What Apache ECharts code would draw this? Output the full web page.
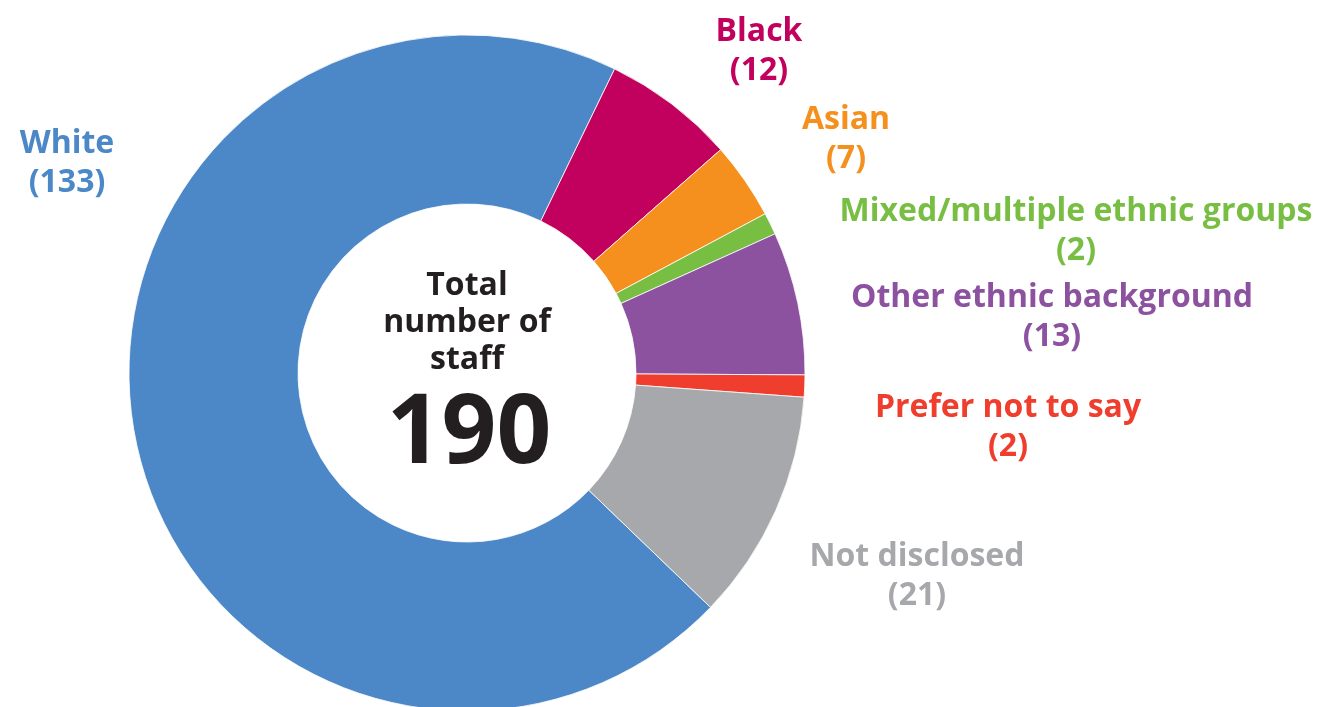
<!DOCTYPE html>
<html>
<head>
<meta charset="utf-8">
<script src="https://cdn.jsdelivr.net/npm/echarts@6/dist/echarts.min.js"></script>
<style>
html,body{margin:0;padding:0;background:#fff;}
#chart{width:1328px;height:707px;}
</style>
</head>
<body>
<div id="chart"></div>
<script>
const categories = ['White', 'Black', 'Asian', 'Mixed/multiple ethnic groups', 'Other ethnic background', 'Prefer not to say', 'Not disclosed'];
const values = [133, 12, 7, 2, 13, 2, 21];
const colors = ['#4C88C7', '#C2005D', '#F5901E', '#78BE43', '#8C52A0', '#EF3E2D', '#A7A8AB'];
const centerTitle = 'Total\nnumber of\nstaff';

// label anchor positions (layout only)
const labelPos = [[67, 163], [759, 51], [846, 139], [1076, 231], [1052, 317], [1008, 427], [917, 576]];

const FONT = '"Open Sans", sans-serif';
const total = values.reduce((a, b) => a + b, 0);
const cx = 467, cy = 373;

const chart = echarts.init(document.getElementById('chart'), null, {renderer: 'canvas'});
chart.setOption({
  animation: false,
  backgroundColor: '#ffffff',
  series: [{
    type: 'pie',
    center: [cx, cy],
    radius: [169, 338],
    startAngle: 316.1,
    clockwise: true,
    avoidLabelOverlap: false,
    itemStyle: {borderColor: '#ffffff', borderWidth: 0.8},
    label: {
      show: true,
      position: 'outside',
      formatter: '{b}\n({c})',
      fontFamily: FONT,
      fontWeight: 'bold',
      fontSize: 32,
      lineHeight: 39,
      align: 'center'
    },
    labelLine: {show: false},
    labelLayout: function (p) {
      const pos = labelPos[p.dataIndex];
      return {x: pos[0], y: pos[1], align: 'center', verticalAlign: 'middle'};
    },
    emphasis: {disabled: true},
    data: categories.map((c, i) => ({
      name: c,
      value: values[i],
      itemStyle: {color: colors[i]},
      label: {color: colors[i]}
    }))
  }],
  graphic: [
    {
      type: 'text',
      x: cx, y: 323,
      style: {
        text: centerTitle,
        fill: '#231F20',
        font: 'bold 32px "Open Sans", sans-serif',
        lineHeight: 37,
        align: 'center',
        verticalAlign: 'middle'
      }
    },
    {
      type: 'text',
      x: cx + 2, y: 436,
      style: {
        text: String(total),
        fill: '#231F20',
        font: 'bold 96px "Open Sans", sans-serif',
        align: 'center',
        verticalAlign: 'middle'
      }
    }
  ]
});
</script>
</body>
</html>
